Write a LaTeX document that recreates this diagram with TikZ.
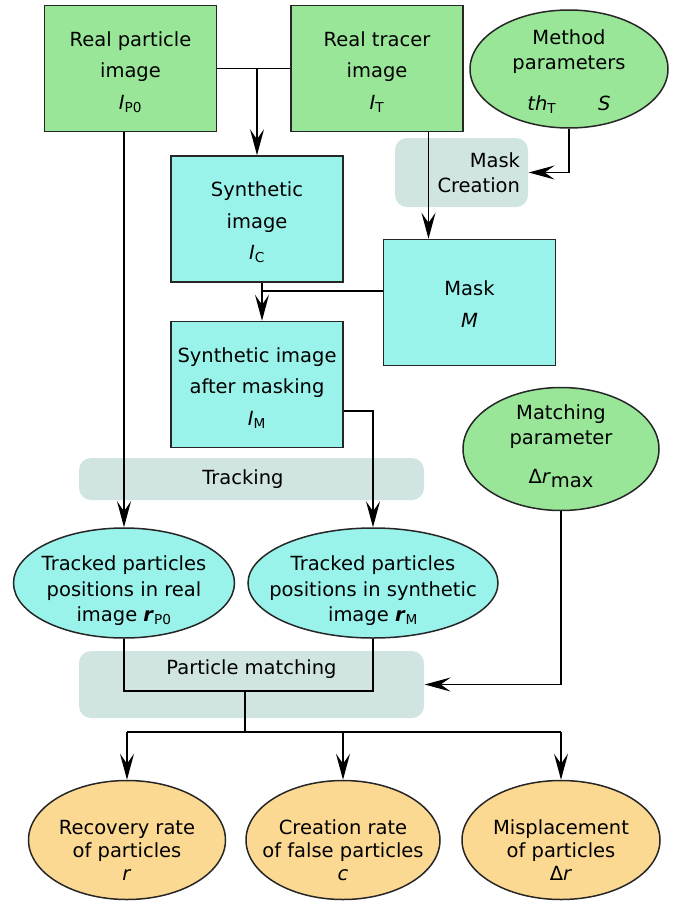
\documentclass[tikz,border=0pt]{standalone}
\usepackage{fontspec}
\setmainfont{DejaVu Sans}
\usetikzlibrary{arrows.meta,shapes.geometric,positioning}

\definecolor{inputgreen}{RGB}{153,230,153}
\definecolor{datacyan}{RGB}{154,243,234}
\definecolor{resultorange}{RGB}{252,217,147}
\definecolor{stepgray}{RGB}{208,229,225}

\begin{document}
\begin{tikzpicture}[x=1pt,y=-1pt,line width=1.3pt,
		flow/.style={-{Stealth[length=26pt,width=14pt,inset=10pt]}},
		font=\fontsize{19.5}{25}\selectfont,
		imgbox/.style={rectangle,draw=black!85,line width=1.5pt,inner sep=0pt,
			minimum width=172pt,minimum height=126pt},
		oval/.style={ellipse,draw=black!85,line width=1.5pt,inner sep=0pt},
		stepbox/.style={rectangle,rounded corners=12pt,fill=stepgray,inner sep=8pt,minimum width=345pt},
		lbl/.style={align=center},
		boxlbl/.style={align=center,yshift=-3.5pt,font=\fontsize{19.5}{31.5}\selectfont}]
	\useasboundingbox (0,0) rectangle (683,902);

	% processing steps (background)
	\node[stepbox] (mc) at (461.5,172.5) [minimum width=133pt,minimum height=69pt,text width=117pt,align=right] {Mask\\Creation};
	\node[stepbox] (trk) at (251.5,479) [minimum height=42pt,label={[lbl,xshift=-8.5pt]center:Tracking}] {};
	\node[stepbox] (pm) at (251.5,684.5) [minimum height=67pt,label={[lbl,yshift=15pt]center:Particle matching}] {};

	% inputs
	\node[imgbox,fill=inputgreen] (rp) at (130.5,68.5)
		[label={[boxlbl]center:Real particle\\image\\\textit{I}\textsubscript{P0}}] {};
	\node[imgbox,fill=inputgreen] (rt) [right=73pt of rp]
		[label={[boxlbl]center:Real tracer\\image\\\textit{I}\textsubscript{T}}] {};
	\node[oval,fill=inputgreen,minimum width=198pt,minimum height=118pt] (mp) at (569,69)
		[label={[lbl,yshift=-3pt]center:Method\\parameters\\[16pt]\textit{th}\textsubscript{T}\hspace{42pt}\textit{S}}] {};
	\node[oval,fill=inputgreen,minimum width=196pt,minimum height=123pt] (mt) at (561,449)
		[label={[lbl,yshift=3pt]center:Matching\\parameter\\[14pt]Δ\textit{r}\raisebox{-0.35ex}{max}}] {};

	% images
	\node[imgbox,fill=datacyan] (si) at (257,219)
		[label={[boxlbl]center:Synthetic\\image\\\textit{I}\textsubscript{C}}] {};
	\node[imgbox,fill=datacyan] (mask) at (469.5,302.5)
		[label={[boxlbl,yshift=2pt]center:Mask\\\textit{M}}] {};
	\node[imgbox,fill=datacyan] (am) [below=38pt of si]
		[label={[boxlbl]center:Synthetic image\\after masking\\\textit{I}\textsubscript{M}}] {};

	% tracked positions
	\node[oval,fill=datacyan,minimum width=221pt,minimum height=110pt] (tr) at (124,583)
		[label={[lbl,yshift=-8pt]center:Tracked particles\\[1pt]positions in real\\image \textbf{\textit{r}}\textsubscript{P0}}] {};
	\node[oval,fill=datacyan,minimum width=250pt,minimum height=110pt] (ts) at (373,583)
		[label={[lbl,yshift=-8pt]center:Tracked particles\\[1pt]positions in synthetic\\image \textbf{\textit{r}}\textsubscript{M}}] {};

	% results
	\node[oval,fill=resultorange,minimum width=197pt,minimum height=119pt] (rec) at (127,840)
		[label={[lbl,yshift=-10pt]center:Recovery rate\\[-2pt]of particles\\[-2pt]\textit{r}}] {};
	\node[oval,fill=resultorange,minimum width=194pt,minimum height=119pt] (cre) at (343,840)
		[label={[lbl,yshift=-10pt]center:Creation rate\\[-2pt]of false particles\\[-2pt]\textit{c}}] {};
	\node[oval,fill=resultorange,minimum width=198pt,minimum height=119pt] (mis) at (561,840)
		[label={[lbl,yshift=-10pt]center:Misplacement\\[-2pt]of particles\\[-2pt]Δ\textit{r}}] {};

	\coordinate (rtout) at ([xshift=51.5pt]rt.south);
	\coordinate (mout) at ([yshift=11.5pt]mask.west);
	\coordinate (amin) at ([xshift=5pt]am.north);
	\coordinate (amout) at ([yshift=-26.5pt]am.east);
	\coordinate (join) at (245,691);
	\coordinate (split) at (245,732);

	\draw (rp) -- (rt);
	\draw[flow] (si.north |- rp.east) -- (si.north);
	\draw[flow] (mp.south) |- (mc.east);
	\draw[flow] (rtout) -- (rtout |- mask.north);
	\draw[flow] (si.south -| amin) -- (amin);
	\draw (mout) -- (mout -| amin);
	\draw[flow] (amout) -| (ts.north);
	\draw[flow] (tr.north |- rp.south) -- (tr.north);
	\draw (tr.south) |- (join) -| (ts.south);
	\draw (join) -- (split);
	\draw[flow] (mt.south) |- (pm.east);
	\draw (rec.north |- split) -- (mis.north |- split);
	\foreach \res in {rec,cre,mis}
		\draw[flow] (\res.north |- split) -- (\res.north);
\end{tikzpicture}
\end{document}
